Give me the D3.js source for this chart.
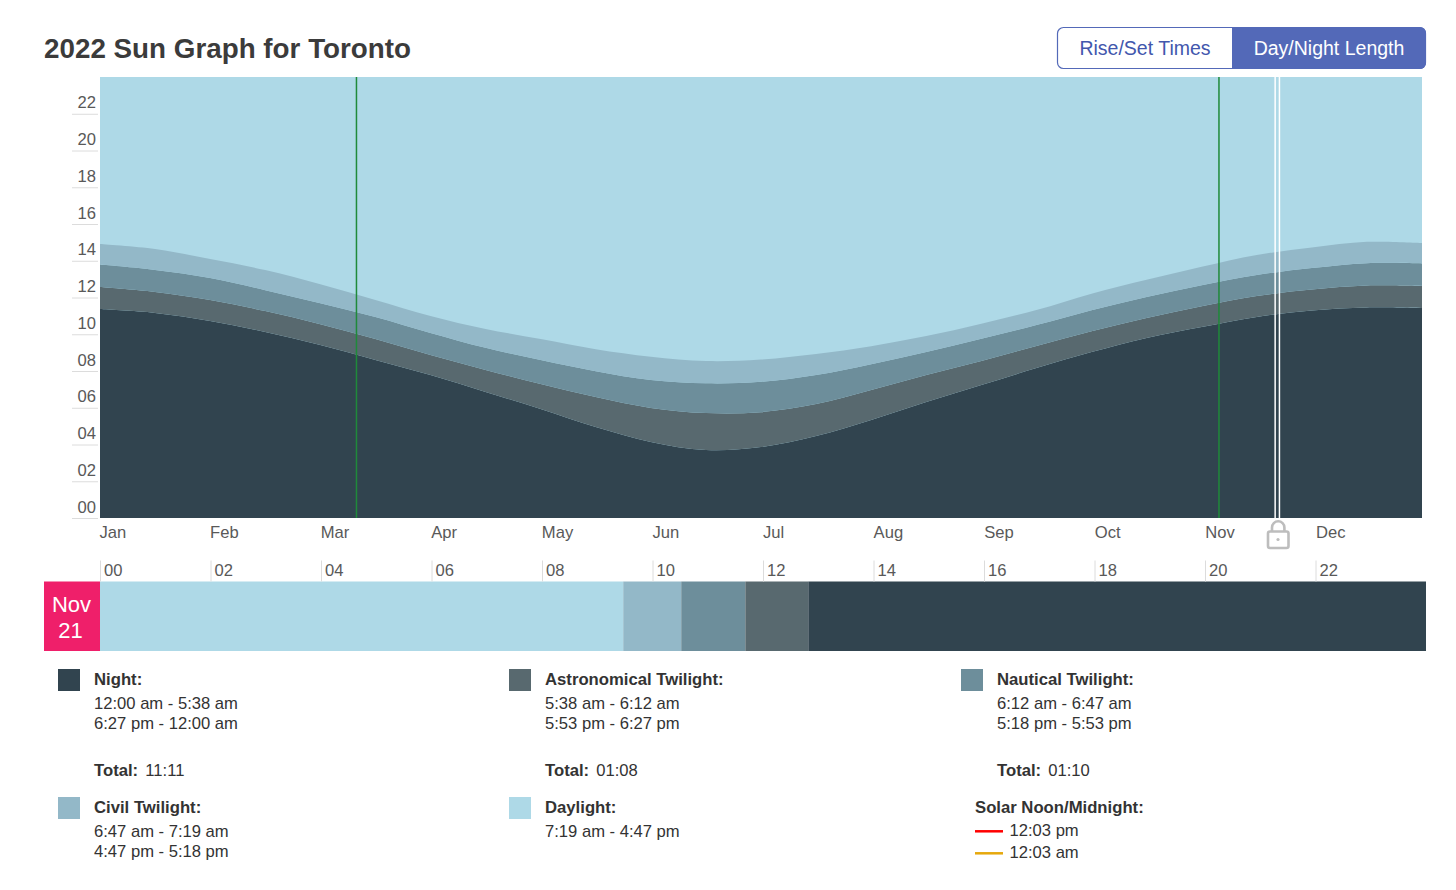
<!DOCTYPE html>
<html>
<head>
<meta charset="utf-8">
<script src="https://cdn.jsdelivr.net/npm/d3@7"></script>
<style>
  html, body { margin: 0; padding: 0; background: #fff; }
  svg { display: block; font-family: "Liberation Sans", Arial, sans-serif; }
  .domain { display: none; }
</style>
</head>
<body>
<svg id="chart" width="1456" height="890"></svg>
<script>
// half-month sample positions, in months since Jan 1
let sampleMonths = [0, 0.5, 1, 1.5, 2, 2.5, 3, 3.5, 4, 4.5, 5, 5.5, 6, 6.5, 7, 7.5, 8, 8.5, 9, 9.5, 10, 10.5, 11, 11.5, 12];

// hours per day spent in each phase
let nightHours = [11.37, 11.16, 10.72, 10.12, 9.41, 8.60, 7.78, 6.86, 5.93, 4.95, 4.14, 3.70, 3.86, 4.46, 5.33, 6.31, 7.24, 8.16, 9.03, 9.80, 10.39, 10.94, 11.29, 11.46, 11.43];
let astroHours = [1.20, 1.14, 1.14, 1.14, 1.14, 1.14, 1.09, 1.20, 1.36, 1.63, 1.85, 2.01, 1.90, 1.74, 1.63, 1.47, 1.31, 1.20, 1.14, 1.09, 1.14, 1.14, 1.14, 1.19, 1.20];
let nauticalHours = [1.22, 1.20, 1.20, 1.14, 1.14, 1.20, 1.20, 1.20, 1.31, 1.41, 1.52, 1.62, 1.65, 1.58, 1.41, 1.25, 1.20, 1.14, 1.14, 1.14, 1.14, 1.14, 1.17, 1.22, 1.22];
let civilHours = [1.12, 1.14, 1.03, 1.09, 1.03, 0.93, 0.93, 1.03, 1.14, 1.20, 1.27, 1.21, 1.21, 1.14, 0.98, 0.87, 0.82, 0.82, 0.90, 0.93, 1.00, 1.09, 1.12, 1.16, 1.12];

let monthLabels = ['Jan', 'Feb', 'Mar', 'Apr', 'May', 'Jun', 'Jul', 'Aug', 'Sep', 'Oct', 'Nov', 'Dec'];
let monthTicks = [0, 1, 2, 3, 4, 5, 6, 7, 8, 9, 10, 11];
let hourTicks = [0, 2, 4, 6, 8, 10, 12, 14, 16, 18, 20, 22];

let dstChanges = [2.328, 10.157];
let selectedDay = [10.667, 10.706];

// the selected day, Nov 21
let dayPhases = ['daylight', 'civil', 'nautical', 'astro', 'night'];
let dayPhaseHours = [9.47, 1.05, 1.16, 1.14, 11.18];

let phaseColors = { night: '#31444f', astro: '#58696f', nautical: '#6d8e9b', civil: '#93b8c8', daylight: '#aed9e7' };

let legendNames = ['Night:', 'Astronomical Twilight:', 'Nautical Twilight:', 'Civil Twilight:', 'Daylight:'];
let legendKeys = ['night', 'astro', 'nautical', 'civil', 'daylight'];
let legendTimes = [
  ['12:00 am - 5:38 am', '6:27 pm - 12:00 am'],
  ['5:38 am - 6:12 am', '5:53 pm - 6:27 pm'],
  ['6:12 am - 6:47 am', '5:18 pm - 5:53 pm'],
  ['6:47 am - 7:19 am', '4:47 pm - 5:18 pm'],
  ['7:19 am - 4:47 pm']
];
let legendTotals = ['11:11', '01:08', '01:10', null, null];
let solarTimes = ['12:03 pm', '12:03 am'];
let solarColors = ['#ff0000', '#e6a80c'];

let svg = d3.select('#chart');
let labelColor = '#595959', textColor = '#333333', tickColor = '#dcdcdc', blue = '#5369b8';
let pad = d => String(d).padStart(2, '0');

// header
svg.append('text').attr('x', 44).attr('y', 57.5)
  .attr('font-size', 27.8).attr('font-weight', 'bold').attr('fill', '#3b3b3b')
  .text('2022 Sun Graph for Toronto');

let btn = svg.append('g');
btn.append('rect').attr('x', 1057.5).attr('y', 27.5).attr('width', 368).attr('height', 41).attr('rx', 6)
  .attr('fill', '#fff').attr('stroke', blue).attr('stroke-width', 1.2);
btn.append('path').attr('fill', blue)
  .attr('d', 'M1232,27 H1420 a6,6 0 0 1 6,6 V63 a6,6 0 0 1 -6,6 H1232 Z');
btn.append('text').attr('x', 1145).attr('y', 55).attr('text-anchor', 'middle')
  .attr('font-size', 19.5).attr('fill', '#4257ad').text('Rise/Set Times');
btn.append('text').attr('x', 1329).attr('y', 55).attr('text-anchor', 'middle')
  .attr('font-size', 19.5).attr('fill', '#fff').text('Day/Night Length');

// main graph
let x = d3.scaleLinear().domain([0, 12]).range([100, 1422]);
let y = d3.scaleLinear().domain([0, 24]).range([518, 77]);

svg.append('rect').attr('x', x(0)).attr('y', y(24))
  .attr('width', x(12) - x(0)).attr('height', y(0) - y(24))
  .attr('fill', phaseColors.daylight);

let rows = sampleMonths.map((m, i) => ({
  month: m, night: nightHours[i], astro: astroHours[i], nautical: nauticalHours[i], civil: civilHours[i]
}));
let stacked = d3.stack().keys(['night', 'astro', 'nautical', 'civil'])(rows);
let area = d3.area()
  .x(d => x(d.data.month))
  .y0(d => y(d[0]))
  .y1(d => y(d[1]))
  .curve(d3.curveCatmullRom);

svg.append('g').selectAll('path').data(stacked).enter().append('path')
  .attr('d', area)
  .attr('fill', d => phaseColors[d.key]);

svg.append('g').selectAll('line').data(dstChanges).enter().append('line')
  .attr('x1', d => x(d)).attr('x2', d => x(d))
  .attr('y1', y(24)).attr('y2', y(0))
  .attr('stroke', '#1f8a3a').attr('stroke-width', 1.5);

svg.append('g').selectAll('line').data(selectedDay).enter().append('line')
  .attr('x1', d => x(d)).attr('x2', d => x(d))
  .attr('y1', y(24)).attr('y2', y(0))
  .attr('stroke', '#fff').attr('stroke-width', 1.5);

let yAxis = svg.append('g').attr('transform', 'translate(98,0)')
  .call(d3.axisLeft(y).tickValues(hourTicks).tickFormat(pad).tickSize(26));
yAxis.selectAll('line').attr('stroke', tickColor);
yAxis.selectAll('text').attr('x', -2).attr('dy', -6)
  .attr('font-size', 16.6).attr('font-family', null).attr('fill', labelColor);

// month labels run a little wider than the plot, out to the end of the day band
let monthX = d3.scaleLinear().domain([0, 12]).range([99, 1426]);
let xAxis = svg.append('g').attr('transform', 'translate(0,518)')
  .call(d3.axisBottom(monthX).tickValues(monthTicks).tickFormat(i => monthLabels[i]).tickSize(0));
xAxis.selectAll('text').attr('x', 0).attr('y', 20).attr('dy', 0).attr('text-anchor', 'start')
  .attr('font-size', 16.6).attr('font-family', null).attr('fill', labelColor);

// lock under the selected day
let lock = svg.append('g').attr('fill', 'none').attr('stroke', '#bdbdbd').attr('stroke-width', 2.6);
lock.append('rect').attr('x', 1268).attr('y', 531.5).attr('width', 20.5).attr('height', 16.5).attr('rx', 2);
lock.append('path').attr('d', 'M1272,531 V527.5 a6.2,6.2 0 0 1 12.4,0 V531');
lock.append('circle').attr('cx', 1278).attr('cy', 539.5).attr('r', 1.6).attr('fill', '#bdbdbd').attr('stroke', 'none');

// single day band
let bandX = d3.scaleLinear().domain([0, 24]).range([100, 1426]);
let bandTop = 581.5, bandBottom = 651;
let starts = d3.cumsum([0].concat(dayPhaseHours));

svg.append('g').selectAll('rect').data(dayPhases).enter().append('rect')
  .attr('x', (d, i) => bandX(starts[i]))
  .attr('y', bandTop)
  .attr('width', (d, i) => bandX(starts[i + 1]) - bandX(starts[i]))
  .attr('height', bandBottom - bandTop)
  .attr('fill', d => phaseColors[d]);

let bandAxis = svg.append('g').attr('transform', 'translate(0,' + bandTop + ')')
  .call(d3.axisTop(bandX).tickValues(hourTicks).tickFormat(pad).tickSize(21));
bandAxis.selectAll('line').attr('stroke', tickColor);
bandAxis.selectAll('text').attr('x', 3.5).attr('y', -5.5).attr('dy', 0).attr('text-anchor', 'start')
  .attr('font-size', 16.6).attr('font-family', null).attr('fill', labelColor);

svg.append('rect').attr('x', 44).attr('y', bandTop).attr('width', 56).attr('height', bandBottom - bandTop)
  .attr('fill', '#ef1f6a');
svg.append('text').attr('x', 71.5).attr('y', 611.5).attr('text-anchor', 'middle')
  .attr('font-size', 22).attr('fill', '#fff').text('Nov');
svg.append('text').attr('x', 70.5).attr('y', 637.5).attr('text-anchor', 'middle')
  .attr('font-size', 22).attr('fill', '#fff').text('21');

// legend
let legendX = [58, 509, 961, 58, 509];
let legendY = [669, 669, 669, 797, 797];

legendNames.forEach((name, i) => {
  let g = svg.append('g').attr('transform', 'translate(' + legendX[i] + ',' + legendY[i] + ')');
  g.append('rect').attr('width', 22).attr('height', 22).attr('fill', phaseColors[legendKeys[i]]);
  g.append('text').attr('x', 36).attr('y', 16.2).attr('font-size', 16.7).attr('font-weight', 'bold')
    .attr('fill', textColor).text(name);
  legendTimes[i].forEach((t, j) => {
    g.append('text').attr('x', 36).attr('y', 40.3 + j * 20).attr('font-size', 16.6)
      .attr('fill', textColor).text(t);
  });
  if (legendTotals[i]) {
    g.append('text').attr('x', 36).attr('y', 106.7).attr('font-size', 16.7).attr('font-weight', 'bold')
      .attr('fill', textColor).text('Total:');
    g.append('text').attr('x', 87.3).attr('y', 106.7).attr('font-size', 16.6)
      .attr('fill', textColor).text(legendTotals[i]);
  }
});

svg.append('text').attr('x', 975).attr('y', 813.3).attr('font-size', 16.7).attr('font-weight', 'bold')
  .attr('fill', textColor).text('Solar Noon/Midnight:');
solarTimes.forEach((t, i) => {
  svg.append('line').attr('x1', 975).attr('x2', 1003).attr('y1', 831.3 + i * 22).attr('y2', 831.3 + i * 22)
    .attr('stroke', solarColors[i]).attr('stroke-width', 2.5);
  svg.append('text').attr('x', 1009.5).attr('y', 835.7 + i * 22).attr('font-size', 16.6)
    .attr('fill', textColor).text(t);
});
</script>
</body>
</html>
